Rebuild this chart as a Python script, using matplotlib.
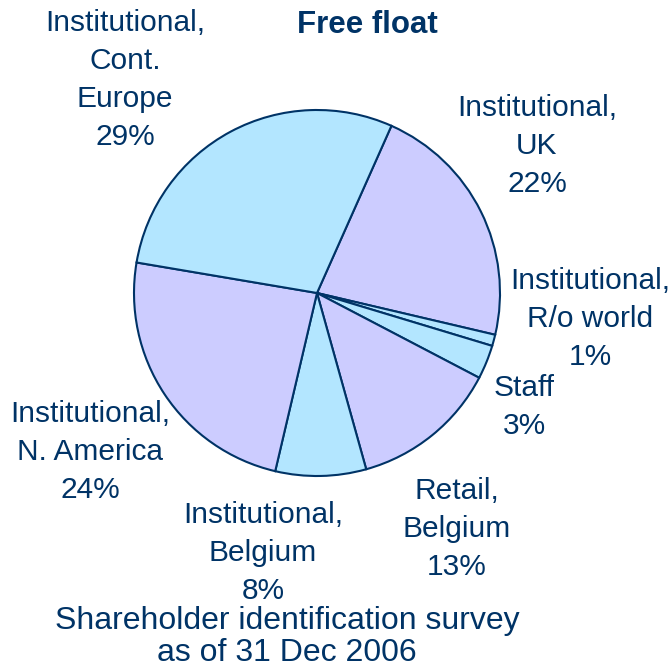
import matplotlib.pyplot as plt

plt.rcParams['font.family'] = ['Liberation Sans', 'DejaVu Sans']

# free float split, clockwise from the UK slice
labels = ["Institutional,\nUK", "Institutional,\nR/o world", "Staff",
          "Retail,\nBelgium", "Institutional,\nBelgium",
          "Institutional,\nN. America", "Institutional,\nCont.\nEurope"]
shares = [22, 1, 3, 13, 8, 24, 29]
colors = ["#CCCCFF", "#B3E6FF", "#B3E6FF", "#CCCCFF", "#B3E6FF", "#CCCCFF", "#B3E6FF"]

# label block centres in pixels (x, y from top)
label_pos = [(537, 146), (590, 319), (524, 407), (457, 529),
             (263, 553), (90, 452), (125, 80)]

W, H = 669, 667
navy = "#003366"

fig = plt.figure(figsize=(W / 100, H / 100), dpi=100)
cx, cy, r = 317, 293, 183
ax = fig.add_axes([(cx - r) / W, (H - cy - r) / H, 2 * r / W, 2 * r / H])
ax.pie(shares, colors=colors, startangle=66, counterclock=False,
       radius=1.0, wedgeprops=dict(edgecolor=navy, linewidth=1.5))
ax.set_xlim(-1, 1)
ax.set_ylim(-1, 1)
ax.set_aspect('equal')
ax.axis('off')

for lab, val, (px, py) in zip(labels, shares, label_pos):
    fig.text(px / W, 1 - py / H, f"{lab}\n{val}%", ha='center', va='center',
             fontsize=21.5, color=navy, linespacing=1.45)

fig.text(367 / W, 1 - 25 / H, "Free float", ha='center', va='center',
         fontsize=22.5, fontweight='bold', color=navy)
fig.text(287 / W, 1 - 637 / H, "Shareholder identification survey\nas of 31 Dec 2006",
         ha='center', va='center', fontsize=23, color=navy, linespacing=1.1)

fig.savefig("out.png", dpi=100)
